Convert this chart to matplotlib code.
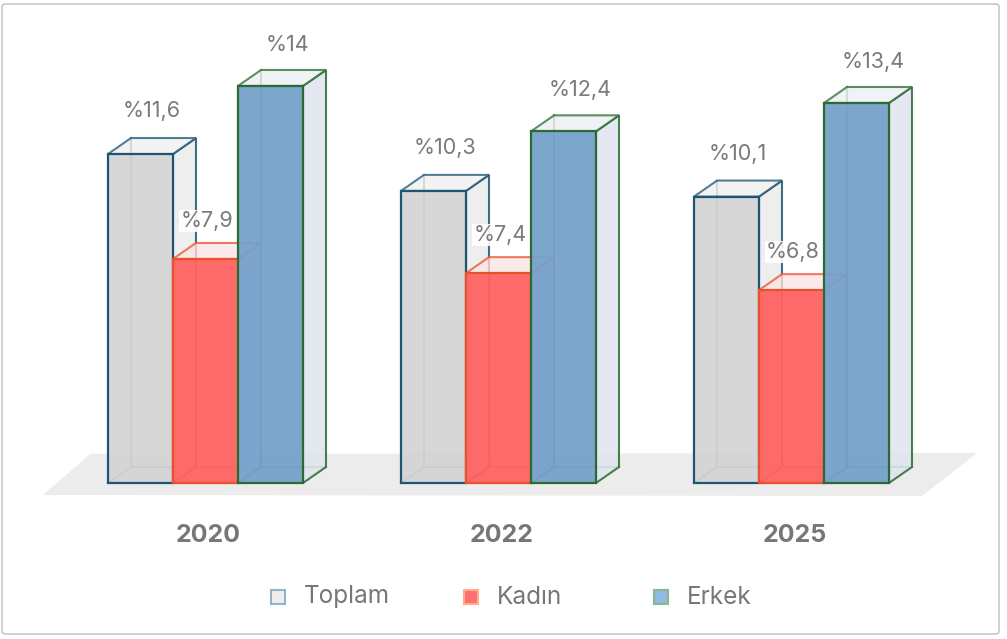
import matplotlib.pyplot as plt
from matplotlib.patches import Polygon, Rectangle, FancyBboxPatch

plt.rcParams['font.family'] = ['Inter', 'DejaVu Sans']

years = ['2020', '2022', '2025']
series = ['Toplam', 'Kadın', 'Erkek']
toplam = [11.6, 10.3, 10.1]
kadin = [7.9, 7.4, 6.8]
erkek = [14.0, 12.4, 13.4]
labels = [['%11,6', '%10,3', '%10,1'],
          ['%7,9', '%7,4', '%6,8'],
          ['%14', '%12,4', '%13,4']]

values = [toplam, kadin, erkek]
front_col = ['#d4d4d4', '#ff6363', '#76a1cb']
front_alpha = [0.92, 0.95, 0.95]
side_col = ['#ebebeb', '#f6dddd', '#e0e5ee']
top_col = ['#efefef', '#fbe4e4', '#eceef3']
edge_col = ['#1e5573', '#e8512a', '#2b6a31']
leg_face = ['#eeeeee', '#ff7070', '#8fbbe4']
leg_edge = ['#8fb3cc', '#ffae8c', '#8ab88a']
lab_dx = [0, -10, 5]   # label shift in px per series
lab_dy = [30, 25, 28]

W, H = 1007, 639
fig = plt.figure(figsize=(W / 100, H / 100), dpi=100)
ax = fig.add_axes([0, 0, 1, 1])
# scale: bar width = 1 unit (65 px), 1 % = 28.36 px, baseline at 483 px
px_x, px_y = 65.0, 28.36
x0_px, y0_px = 108, 483
ax.set_xlim(-x0_px / px_x, (W - x0_px) / px_x)
ax.set_ylim(-(H - y0_px) / px_y, y0_px / px_y)
ax.axis('off')

def px(xp, yp):
    return ((xp - x0_px) / px_x, (y0_px - yp) / px_y)

# floor
floor = [px(43, 495), px(922, 496), px(977, 453), px(90, 454)]
ax.add_patch(Polygon(floor, closed=True, fc='#ececec', ec='none', zorder=0))

dx, dy = 23 / px_x, 16 / px_y
gap = 293 / px_x

for j in range(3):
    for i in range(3):
        v = values[j][i]
        x = i * gap + j
        ec = edge_col[j]
        z = 1 + j * 5
        # back edges
        ax.plot([x + dx, x + dx, x + 1 + dx], [v + dy, dy, dy], color=ec, lw=1.5, alpha=0.6, zorder=z)
        ax.plot([x, x + dx], [0, dy], color=ec, lw=1.5, alpha=0.6, zorder=z)
        # right side face
        side = [(x + 1, 0), (x + 1 + dx, dy), (x + 1 + dx, v + dy), (x + 1, v)]
        ax.add_patch(Polygon(side, closed=True, fc=side_col[j], ec=ec, lw=1.5, alpha=0.85, zorder=z + 1))
        # top face
        top = [(x, v), (x + 1, v), (x + 1 + dx, v + dy), (x + dx, v + dy)]
        ax.add_patch(Polygon(top, closed=True, fc=top_col[j], ec=ec, lw=1.5, alpha=0.75, zorder=z + 1))
        # front face
        ax.add_patch(Rectangle((x, 0), 1, v, fc=front_col[j], ec='none', alpha=front_alpha[j], zorder=z + 2))
        ax.add_patch(Rectangle((x, 0), 1, v, fc='none', ec=ec, lw=1.6, zorder=z + 2))
        # value label
        ax.text(x + 0.5 + dx / 2 + lab_dx[j] / px_x, v + dy + (lab_dy[j] - 3) / px_y, labels[j][i],
                ha='center', va='center', fontsize=15.5, color='#7a7a7a', zorder=30,
                bbox=dict(fc='white', ec='none', pad=1.0, alpha=0.9))

for i, yr in enumerate(years):
    ax.text(i * gap + 1.5 + 3 / px_x, -52 / px_y, yr, ha='center', va='center', fontsize=18,
            fontweight='bold', color='#777777')

# legend
leg_x = [278, 471, 661]
for k, name in enumerate(series):
    fx = leg_x[k] / W
    fig.patches.append(Rectangle((fx - 7 / W, 1 - 604 / H), 14 / W, 14 / H,
                                 transform=fig.transFigure, fc=leg_face[k], ec=leg_edge[k], lw=1.5))
    fig.text(fx + 26 / W, 1 - 597 / H, name, ha='left', va='center', fontsize=17.5, color='#777777')

# border
fig.patches.append(FancyBboxPatch((2 / W, 5 / H), 997 / W, 630 / H, boxstyle='round,pad=0,rounding_size=0.004',
                                  transform=fig.transFigure, fc='none', ec='#bdbdbd', lw=1))

fig.savefig('out.png', dpi=100)
